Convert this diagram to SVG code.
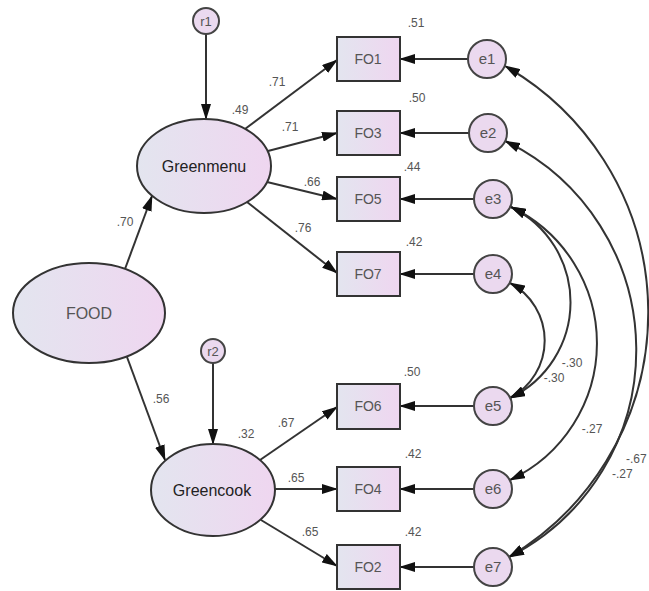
<svg xmlns="http://www.w3.org/2000/svg" width="649" height="591" viewBox="0 0 649 591">
<style>
.lat{stroke:#333;stroke-width:2;fill:url(#g)}
.box{stroke:#333;stroke-width:2;fill:url(#g)}
.err{stroke:#444;stroke-width:2;fill:#ebd9ef}
.big{font-family:"Liberation Sans",Arial,sans-serif;font-size:16px;fill:#222;text-anchor:middle}
.lab{font-family:"Liberation Sans",Arial,sans-serif;font-size:14px;fill:#555;text-anchor:middle}
.el{font-family:"Liberation Sans",Arial,sans-serif;font-size:15px;fill:#555;text-anchor:middle}
.num{font-family:"Liberation Sans",Arial,sans-serif;font-size:12px;fill:#555;text-anchor:middle}
.c line,.c path{stroke:#333;stroke-width:2;fill:none;marker-end:url(#ah)}
.c .dbl{marker-start:url(#ah)}
</style>
<defs>
<linearGradient id="g" x1="0" y1="0" x2="1" y2="0">
<stop offset="0" stop-color="#e3e5ef"/>
<stop offset="1" stop-color="#efd6f0"/>
</linearGradient>
<marker id="ah" viewBox="0 0 16 10" refX="15" refY="5" markerWidth="16" markerHeight="10" markerUnits="userSpaceOnUse" orient="auto-start-reverse">
<path d="M0,0 L16,5 L0,10 z" fill="#111"/>
</marker>
</defs>
<rect width="649" height="591" fill="#fff"/>

<g id="connectors" class="c">
<line x1="206" y1="34" x2="206" y2="119"/>
<line x1="213" y1="363" x2="213" y2="444"/>
<line x1="125" y1="269" x2="152" y2="196"/>
<line x1="127" y1="357" x2="165" y2="460"/>
<line x1="245" y1="129" x2="337" y2="60"/>
<line x1="268" y1="151" x2="337" y2="133"/>
<line x1="267" y1="182" x2="337" y2="199"/>
<line x1="247" y1="202" x2="337" y2="273"/>
<line x1="260" y1="460" x2="337" y2="407"/>
<line x1="275" y1="489" x2="337" y2="489"/>
<line x1="261" y1="520" x2="337" y2="566"/>
<line x1="468" y1="59" x2="400" y2="59"/>
<line x1="469" y1="133" x2="400" y2="133"/>
<line x1="474" y1="199" x2="400" y2="199"/>
<line x1="474" y1="274" x2="400" y2="274"/>
<line x1="474" y1="406" x2="400" y2="406"/>
<line x1="474" y1="489" x2="400" y2="489"/>
<line x1="474" y1="567" x2="400" y2="567"/>
<path class="dbl" d="M505,66 A284,284 0 0 1 509,557"/>
<path class="dbl" d="M505,141 A232,232 0 0 1 509,557"/>
<path class="dbl" d="M511,207 A151,151 0 0 1 510,480"/>
<path class="dbl" d="M511,207 A106,106 0 0 1 510,398"/>
<path class="dbl" d="M510,283 A65,65 0 0 1 510,398"/>
</g>

<g id="labels">
<text class="num" x="240" y="114">.49</text>
<text class="num" x="277" y="86">.71</text>
<text class="num" x="290" y="131">.71</text>
<text class="num" x="312" y="186">.66</text>
<text class="num" x="303" y="232">.76</text>
<text class="num" x="125" y="226">.70</text>
<text class="num" x="161" y="403">.56</text>
<text class="num" x="246" y="438">.32</text>
<text class="num" x="286" y="427">.67</text>
<text class="num" x="296" y="482">.65</text>
<text class="num" x="310" y="536">.65</text>
<text class="num" x="416" y="27">.51</text>
<text class="num" x="417" y="102">.50</text>
<text class="num" x="412" y="171">.44</text>
<text class="num" x="414" y="246">.42</text>
<text class="num" x="412" y="376">.50</text>
<text class="num" x="413" y="458">.42</text>
<text class="num" x="413" y="536">.42</text>
<text class="num" x="572" y="367">-.30</text>
<text class="num" x="554" y="382">-.30</text>
<text class="num" x="592" y="433">-.27</text>
<text class="num" x="626" y="463" style="text-anchor:start">-.67</text>
<text class="num" x="612" y="478" style="text-anchor:start">-.27</text>
</g>

<g id="FOOD"><ellipse class="lat" cx="89" cy="313" rx="76" ry="50"/><text class="big" x="89" y="319" style="fill:#555">FOOD</text></g>
<g id="Greenmenu"><ellipse class="lat" cx="204" cy="166" rx="67" ry="47"/><text class="big" x="204" y="172">Greenmenu</text></g>
<g id="Greencook"><ellipse class="lat" cx="213" cy="490" rx="62" ry="46"/><text class="big" x="212" y="496">Greencook</text></g>
<g id="r1"><circle class="err" cx="206" cy="21" r="13"/><text class="num" x="206" y="26" style="font-size:13px">r1</text></g>
<g id="r2"><circle class="err" cx="213" cy="351" r="12"/><text class="num" x="213" y="356" style="font-size:13px">r2</text></g>

<g id="FO1"><rect class="box" x="337" y="37" width="63" height="44"/><text class="lab" x="368" y="64">FO1</text></g>
<g id="FO3"><rect class="box" x="337" y="111" width="63" height="44"/><text class="lab" x="368" y="138">FO3</text></g>
<g id="FO5"><rect class="box" x="337" y="177" width="63" height="44"/><text class="lab" x="368" y="204">FO5</text></g>
<g id="FO7"><rect class="box" x="337" y="252" width="63" height="44"/><text class="lab" x="368" y="279">FO7</text></g>
<g id="FO6"><rect class="box" x="337" y="384" width="63" height="45"/><text class="lab" x="368" y="411">FO6</text></g>
<g id="FO4"><rect class="box" x="337" y="467" width="63" height="44"/><text class="lab" x="368" y="494">FO4</text></g>
<g id="FO2"><rect class="box" x="337" y="545" width="63" height="44"/><text class="lab" x="368" y="572">FO2</text></g>

<g id="e1"><circle class="err" cx="487" cy="59" r="19"/><text class="el" x="487" y="64">e1</text></g>
<g id="e2"><circle class="err" cx="488" cy="133" r="19"/><text class="el" x="488" y="138">e2</text></g>
<g id="e3"><circle class="err" cx="493" cy="199" r="19"/><text class="el" x="493" y="204">e3</text></g>
<g id="e4"><circle class="err" cx="493" cy="274" r="19"/><text class="el" x="493" y="279">e4</text></g>
<g id="e5"><circle class="err" cx="493" cy="406" r="19"/><text class="el" x="493" y="411">e5</text></g>
<g id="e6"><circle class="err" cx="493" cy="489" r="19"/><text class="el" x="493" y="494">e6</text></g>
<g id="e7"><circle class="err" cx="493" cy="567" r="19"/><text class="el" x="493" y="572">e7</text></g>
</svg>
